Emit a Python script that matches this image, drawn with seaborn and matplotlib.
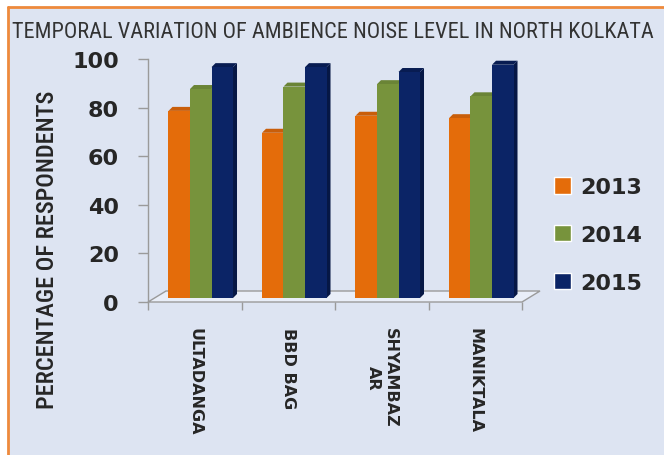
import matplotlib
matplotlib.use("Agg")
import matplotlib.pyplot as plt
import matplotlib.font_manager as fm
from matplotlib import transforms
from matplotlib.patches import Polygon, Rectangle
from matplotlib.lines import Line2D
import pandas as pd
import seaborn as sns

# ---- data -------------------------------------------------------------
locations = ["ULTADANGA", "BBD BAG", "SHYAMBAZ\nAR", "MANIKTALA"]
years = ["2013", "2014", "2015"]
pct_2013 = [77, 68, 75, 74]
pct_2014 = [86, 87, 88, 83]
pct_2015 = [95, 95, 93, 96]
y_ticks = [0, 20, 40, 60, 80, 100]

colors = {"2013": "#E46C0A", "2014": "#77933C", "2015": "#0B2466"}
side_colors = {"2013": "#B4540A", "2014": "#5C7430", "2015": "#061745"}
top_colors = {"2013": "#C95E0A", "2014": "#6A8436", "2015": "#081C52"}
bg = "#DDE4F2"

df = pd.DataFrame({
    "location": locations * 3,
    "year": [y for y in years for _ in locations],
    "pct": pct_2013 + pct_2014 + pct_2015,
})

sns.set_theme(style="white")
plt.rcParams["font.family"] = ["DejaVu Sans"]

# pick a narrow face for the title and axis caption
names = {f.name for f in fm.fontManager.ttflist}
narrow = "Roboto"
for cand in ["Liberation Sans Narrow", "Roboto Condensed", "Open Sans Condensed",
             "DejaVu Sans Condensed"]:
    if cand in names:
        narrow = cand
        break

W, H = 664, 456
fig = plt.figure(figsize=(W / 100, H / 100), dpi=100)
fig.patch.set_facecolor("white")

# panel background with orange frame on the left and top
fig.patches.append(Rectangle((8 / W, 0), 1, 1 - 8 / H, transform=fig.transFigure,
                             facecolor=bg, edgecolor="none", zorder=-10))
fig.lines.append(Line2D([8 / W, 8 / W], [0, 1 - 8 / H], transform=fig.transFigure,
                        color="#EE8A3C", lw=2))
fig.lines.append(Line2D([8 / W, 1], [1 - 8 / H, 1 - 8 / H], transform=fig.transFigure,
                        color="#EE8A3C", lw=2))

ax_l, ax_r, ax_b, ax_t = 148, 522, 303, 60
ax = fig.add_axes([ax_l / W, 1 - ax_b / H, (ax_r - ax_l) / W, (ax_b - ax_t) / H])
ax.set_facecolor("none")

sns.barplot(data=df, x="location", y="pct", hue="year", hue_order=years,
            palette=colors, saturation=1, width=0.69, ax=ax, zorder=3)

ax.set_xlim(-0.5, len(locations) - 0.5)
ax.set_ylim(0, 100)

# pseudo-3D: shift bars into the floor and add side / top faces
px_x = (len(locations)) / (ax_r - ax_l)   # data units per pixel
px_y = 100 / (ax_b - ax_t)
shift = transforms.offset_copy(ax.transData, fig=fig, x=6, y=4, units="dots")
d_x, d_y = 4 * px_x, 4 * px_y
for yr, container in zip(years, ax.containers):
    for p in container.patches:
        x0, w, h = p.get_x(), p.get_width(), p.get_height()
        p.set_transform(shift)
        p.set_edgecolor("none")
        side = Polygon([(x0 + w, 0), (x0 + w + d_x, d_y), (x0 + w + d_x, h + d_y), (x0 + w, h)],
                       closed=True, facecolor=side_colors[yr], edgecolor="none",
                       transform=shift, zorder=2)
        top = Polygon([(x0, h), (x0 + w, h), (x0 + w + d_x, h + d_y), (x0 + d_x, h + d_y)],
                      closed=True, facecolor=top_colors[yr], edgecolor="none",
                      transform=shift, zorder=2)
        ax.add_patch(side)
        ax.add_patch(top)

# floor
fx, fy = 18 * px_x, 11 * px_y
floor = Polygon([(-0.5, 0), (len(locations) - 0.5, 0),
                 (len(locations) - 0.5 + fx, fy), (-0.5 + fx, fy)],
                closed=True, facecolor="#E9EEF8", edgecolor="#9A9A9A", lw=1.0,
                clip_on=False, zorder=1)
ax.add_patch(floor)

for s in ["top", "right", "bottom"]:
    ax.spines[s].set_visible(False)
ax.spines["left"].set_color("#9A9A9A")
ax.spines["left"].set_linewidth(1.0)

ax.set_yticks(y_ticks)
ax.set_yticklabels([str(v) for v in y_ticks], fontsize=16, fontweight="bold", color="#262626")
ax.tick_params(axis="y", direction="out", length=7, width=1, color="#9A9A9A", pad=14, left=True)

ax.set_xticks(range(len(locations)))
ax.set_xticklabels(locations, rotation=270, fontsize=11.5, fontweight="bold",
                   color="#262626", ha="center", va="top", multialignment="center")
ax.tick_params(axis="x", length=0, pad=18)
ax.set_xticks([k + 0.5 for k in range(-1, len(locations))], minor=True)
ax.tick_params(axis="x", which="minor", direction="out", length=6, width=1,
               color="#9A9A9A", bottom=True)
ax.set_xlabel("")
ax.set_ylabel("")

fig.text(48 / W, 1 - 250 / H, "PERCENTAGE OF RESPONDENTS", rotation=90,
         ha="center", va="center", fontsize=17.5, family=narrow, fontstretch="condensed",
         fontweight="medium", color="#262626")

fig.text(12 / W, 1 - 32 / H, "TEMPORAL VARIATION OF AMBIENCE NOISE LEVEL IN NORTH KOLKATA",
         ha="left", va="center", fontsize=16, family=narrow, fontstretch="condensed",
         color="#333333")

handles, labels = ax.get_legend_handles_labels()
ax.legend(handles, labels, loc="center left", bbox_to_anchor=(534 / W, 1 - 236 / H),
          bbox_transform=fig.transFigure, frameon=False, handlelength=0.75,
          handleheight=0.75, handletextpad=0.45, labelspacing=1.25,
          prop={"size": 16, "weight": "bold"})
for t in ax.get_legend().get_texts():
    t.set_color("#262626")

fig.savefig("out.png", dpi=100, facecolor=fig.get_facecolor())
